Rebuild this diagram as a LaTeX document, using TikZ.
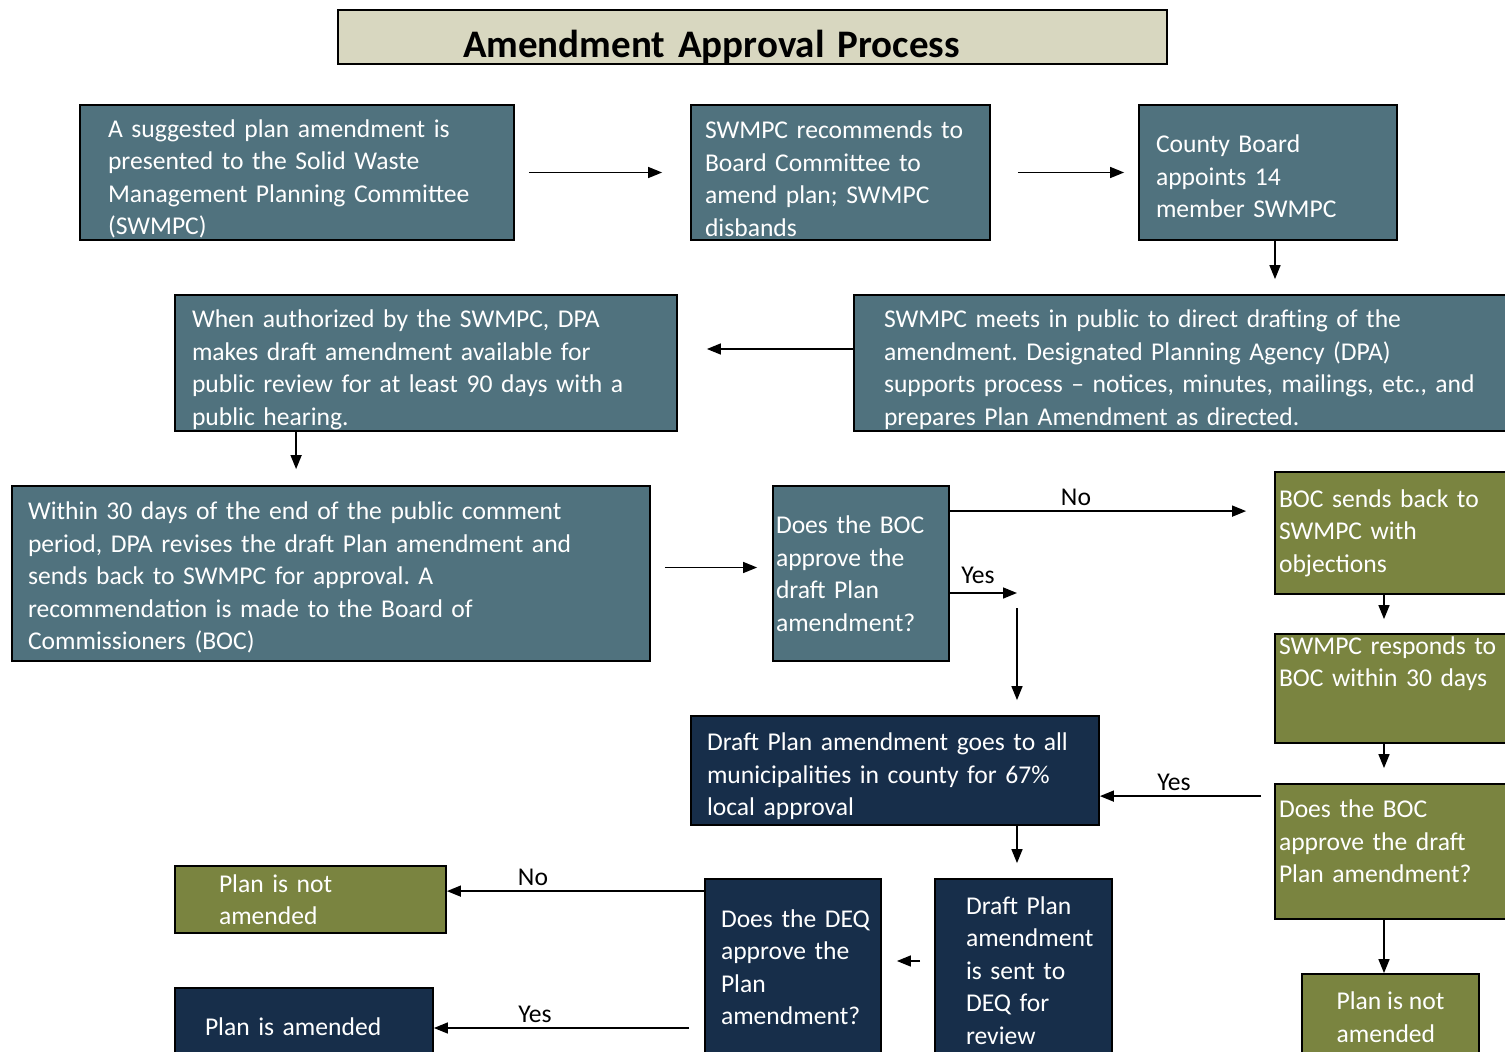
\documentclass[tikz,border=0pt]{standalone}
\usepackage{fontspec}
\setmainfont{Carlito}
\usetikzlibrary{arrows.meta}

\definecolor{slateteal}{HTML}{50727E}
\definecolor{olivegreen}{HTML}{7A8440}
\definecolor{deepnavy}{HTML}{172E4A}
\definecolor{titlebeige}{HTML}{D8D7C0}

\hyphenpenalty=10000
\exhyphenpenalty=10000
\frenchspacing

% invisible struts to move box text down or up
\newcommand{\topgap}[1]{\rule{0pt}{#1}}
\newcommand{\botgap}[1]{\rule[-#1]{0pt}{#1}}

\tikzset{
  procbox/.style={draw=black, line width=1.8pt, text=white, align=left,
    inner xsep=0pt, inner ysep=0pt, font=\fontsize{25.6}{32.5}\selectfont},
  tealbox/.style={procbox, fill=slateteal},
  olivebox/.style={procbox, fill=olivegreen},
  navybox/.style={procbox, fill=deepnavy},
  arr/.style={-{Triangle[length=14pt,width=11pt]}, line width=1.5pt},
  lbl/.style={font=\fontsize{25.6}{32.5}\selectfont, inner sep=0pt},
}

\begin{document}
\begin{tikzpicture}[x=1pt, y=-1pt]
  \useasboundingbox (0,0) rectangle (1505,1052);
  \fill[white] (0,0) rectangle (1505,1052);
  \clip (0,0) rectangle (1505,1052);

  % title
  \node[draw=black, line width=1.8pt, fill=titlebeige, minimum width=829pt, minimum height=54pt,
    text width=579pt, inner xsep=0pt, inner ysep=2pt, text height=44pt, text depth=4pt, align=left,
    font=\fontsize{39}{47}\selectfont\bfseries] (title) at (752.5,37) {Amendment Approval Process};

  % first row
  \node[tealbox, minimum width=434pt, minimum height=135pt, text width=378pt] (suggest) at (297,172.5)
    {\topgap{31pt}A suggested plan amendment is\\presented to the Solid Waste\\Management Planning Committee\\(SWMPC)};
  \node[tealbox, minimum width=299pt, minimum height=135pt, text width=271pt] (recommend) at (840.5,172.5)
    {\topgap{30pt}SWMPC recommends to\\Board Committee to\\amend plan; SWMPC\\disbands};
  \node[tealbox, minimum width=258pt, minimum height=135pt, text width=224pt] (appoint) at (1268,172.5)
    {\topgap{26pt}County Board\\appoints 14\\member SWMPC};

  % second row
  \node[tealbox, minimum width=671pt, minimum height=136pt, text width=611pt] (meets) at (1189.5,363)
    {\topgap{31pt}SWMPC meets in public to direct drafting of the\\amendment. Designated Planning Agency (DPA)\\supports process -- notices, minutes, mailings, etc., and\\prepares Plan Amendment as directed.};
  \node[tealbox, minimum width=502pt, minimum height=136pt, text width=468pt] (review) at (426,363)
    {\topgap{31pt}When authorized by the SWMPC, DPA\\makes draft amendment available for\\public review for at least 90 days with a\\public hearing.};

  % third row
  \node[tealbox, minimum width=638pt, minimum height=175pt, text width=606pt] (revise) at (331,573.5)
    {\topgap{26pt}Within 30 days of the end of the public comment\\period, DPA revises the draft Plan amendment and\\sends back to SWMPC for approval. A\\recommendation is made to the Board of\\Commissioners (BOC)};
  \node[tealbox, minimum width=176pt, minimum height=175pt, text width=170pt] (bocq) at (861,573.5)
    {Does the BOC\\approve the\\draft Plan\\amendment?};

  % right column
  \node[olivebox, minimum width=250pt, minimum height=122pt, text width=242pt] (sendback) at (1400,533)
    {BOC sends back to\\SWMPC with\\objections};
  \node[olivebox, minimum width=250pt, minimum height=109pt, text width=242pt] (respond) at (1400,688.5)
    {SWMPC responds to\\BOC within 30 days\botgap{54pt}};
  \node[olivebox, minimum width=250pt, minimum height=135pt, text width=242pt] (bocq2) at (1400,851.5)
    {Does the BOC\\approve the draft\\Plan amendment?\botgap{20pt}};
  \node[olivebox, minimum width=177pt, minimum height=86pt] (notright) at (1390.5,1017)
    {Plan is not\\amended};

  % lower part
  \node[navybox, minimum width=408pt, minimum height=109pt, text width=376pt] (municip) at (895,770.5)
    {\topgap{30pt}Draft Plan amendment goes to all\\municipalities in county for 67\%\\local approval};
  \node[navybox, minimum width=177pt, minimum height=183pt, text width=115pt] (deq) at (1023.5,970.5)
    {Draft Plan\\amendment\\is sent to\\DEQ for\\review};
  \node[navybox, minimum width=176pt, minimum height=176pt, text width=144pt] (deqq) at (793,967)
    {Does~the~DEQ\\approve the\\Plan\\amendment?};
  \node[olivebox, minimum width=271pt, minimum height=67pt, text width=183pt] (notleft) at (310.5,899.5)
    {Plan is not\\amended};
  \node[navybox, minimum width=258pt, minimum height=78pt, text width=198pt] (amended) at (304,1027)
    {Plan is amended};

  % connectors
  \draw[arr, shorten <=14pt, shorten >=28pt] (suggest) -- (recommend);
  \draw[arr, shorten <=27pt, shorten >=14pt] (recommend) -- (appoint);
  \draw[arr, shorten >=15pt] ([xshift=7pt]appoint.south) -- ([xshift=7pt]appoint.south |- meets.north);
  \draw[arr, shorten >=29pt] ([yshift=14pt]meets.west) -- ([yshift=14pt]meets.west -| review.east);
  \draw[arr, shorten >=16pt] ([xshift=122pt]review.south west) -- ([xshift=122pt]review.south west |- revise.north);
  \draw[arr, shorten <=14pt, shorten >=15pt] ([yshift=6pt]revise.east) -- ([yshift=6pt]revise.east -| bocq.west);
  \draw[arr, shorten >=28pt] ([yshift=-26pt]bocq.north east) -- ([yshift=-26pt]bocq.north east -| sendback.west);
  \coordinate (yesturn) at (1017,593);
  \draw[arr] (bocq.east |- yesturn) -- (yesturn);
  \draw[arr, shorten <=15pt, shorten >=15pt] (yesturn) -- (yesturn |- municip.north);
  \draw[arr, shorten >=14pt] ([xshift=-16pt]sendback.south) -- ([xshift=-16pt]sendback.south |- respond.north);
  \draw[arr, shorten >=15pt] ([xshift=-16pt]respond.south) -- ([xshift=-16pt]respond.south |- bocq2.north);
  \draw[arr, shorten <=13pt] ([yshift=-13pt]bocq2.north west) -- ([yshift=-13pt]bocq2.north west -| municip.east);
  \draw[arr] ([xshift=-16pt]bocq2.south) -- ([xshift=-16pt]bocq2.south |- notright.north);
  \draw[arr, shorten >=15pt] ([xshift=-6.5pt]deq.north |- municip.south) -- ([xshift=-6.5pt]deq.north);
  \draw[arr, shorten <=14pt, shorten >=15pt] ([yshift=9.5pt]deq.west) -- ([yshift=9.5pt]deq.west -| deqq.east);
  \draw[arr] ([yshift=-13pt]deqq.north west) -- ([yshift=-13pt]deqq.north west -| notleft.east);
  \draw[arr, shorten <=15pt] ([yshift=-1pt]amended.east -| deqq.west) -- ([yshift=-1pt]amended.east);

  % labels
  \node[lbl] (bocno) at (1076,497) {No};
  \node[lbl] (bocyes) at (978,575) {Yes};
  \node[lbl] (bocyes2) at (1174,782) {Yes};
  \node[lbl] (deqno) at (533,877) {No};
  \node[lbl] (deqyes) at (535,1014) {Yes};
\end{tikzpicture}
\end{document}
